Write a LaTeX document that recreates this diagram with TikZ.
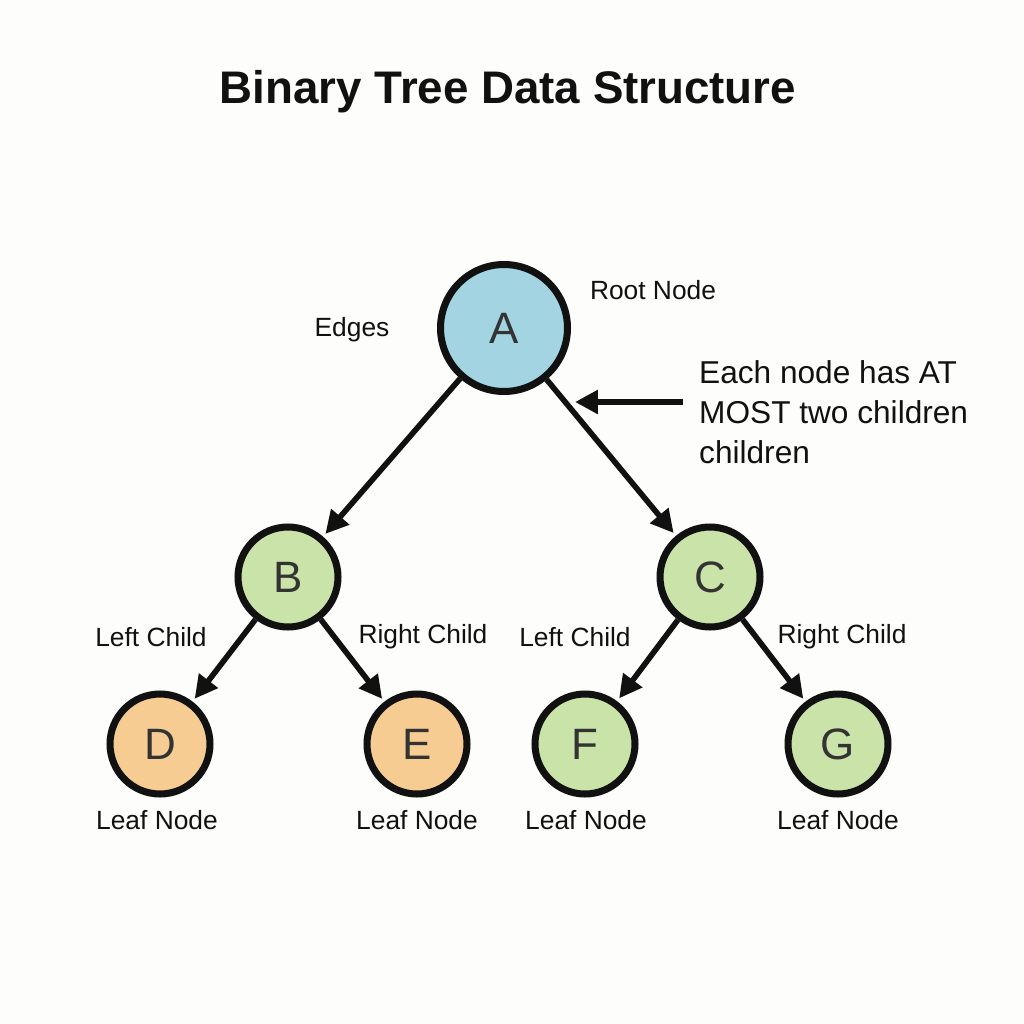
\documentclass[tikz,border=0pt]{standalone}
\usepackage{fontspec}
\setmainfont{Liberation Sans}
\usetikzlibrary{positioning,arrows.meta}
\definecolor{ink}{HTML}{111111}
\definecolor{lettr}{HTML}{333333}
\definecolor{bluebg}{HTML}{A2D4E2}
\definecolor{greenbg}{HTML}{C9E3A8}
\definecolor{orangebg}{HTML}{F7CC93}
\definecolor{paper}{HTML}{FDFDFC}
\tikzset{
  vtx/.style    ={circle, draw=ink, line width=4pt, text=lettr, inner sep=0pt, font=\fontsize{25}{29}\selectfont},
  bluev/.style  ={vtx, fill=bluebg,   minimum size=2.54cm},
  greenv/.style ={vtx, fill=greenbg,  minimum size=2.0cm},
  orangev/.style={vtx, fill=orangebg, minimum size=2.0cm},
  ln/.style     ={draw=ink, line width=3.2pt, -{Triangle[length=13pt,width=13pt]}, shorten >=2pt},
  lbl/.style    ={text=ink, font=\fontsize{15}{18}\selectfont},
  note/.style   ={text=ink, align=left, font=\fontsize{18}{22.8}\selectfont},
  ttl/.style    ={text=ink, font=\fontsize{26}{30}\selectfont\bfseries},
}
\begin{document}
\begin{tikzpicture}[x=0.02cm,y=-0.02cm]
    \fill[paper] (0,0) rectangle (1024,1024);
    \node[ttl] (title) at (508,92) {Binary Tree Data Structure};

    % tree
    \node[bluev]   (A) at (504,328) {A};
    \node[greenv]  (B) at (288,577) {B};
    \node[greenv]  (C) at (710,577) {C};
    \node[orangev] (D) at (160,744) {D};
    \node[orangev] (E) at (417,744) {E};
    \node[greenv]  (F) at (585,744) {F};
    \node[greenv]  (G) at (838,744) {G};

    \draw[ln] (A) -- (B);
    \draw[ln] (A) -- (C);
    \draw[ln] (B) -- (D);
    \draw[ln] (B) -- (E);
    \draw[ln] (C) -- (F);
    \draw[ln] (C) -- (G);

    % labels
    \node[lbl] (rootlbl)  at (653,290) {Root Node};
    \node[lbl] (edgelbl)  at (352,330) {Edges};
    \node[lbl] (bleft)    at (151,637) {Left Child};
    \node[lbl] (bright)   at (423,637) {Right Child};
    \node[lbl] (cleft)    at (575,637) {Left Child};
    \node[lbl] (cright)   at (842,637) {Right Child};
    \foreach \n/\x in {D/157,E/417,F/586,G/838}
      \node[lbl] (leaf\n) at (\x,820) {Leaf Node};

    % side note
    \node[note,anchor=west] (rule) at (693,412) {Each node has AT\\MOST two children\\children};
    \coordinate (ptrtail) at (683,402);
    \coordinate (ptrtip)  at (575,402);
    \draw[ln,shorten >=0pt] (ptrtail) -- (ptrtip);
\end{tikzpicture}
\end{document}
